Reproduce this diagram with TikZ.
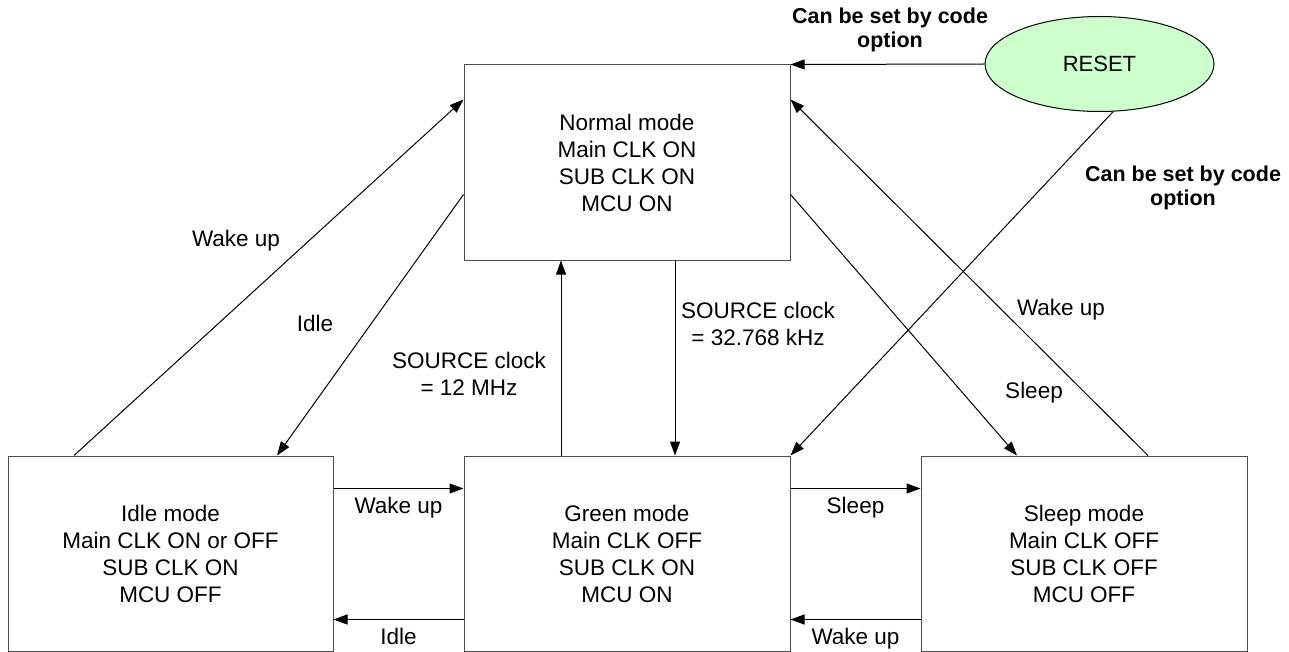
\documentclass[tikz,border=0pt]{standalone}
\usepackage{fontspec}
\setmainfont{Liberation Sans}
\usetikzlibrary{arrows.meta,shapes.geometric}
\definecolor{resetgreen}{HTML}{CCFFCC}

\begin{document}
\begin{tikzpicture}[x=1pt,y=-1pt,line width=1pt,
        mode/.style={draw=black!70,minimum width=326pt,minimum height=195pt,align=center,
                     font=\fontsize{22.5}{27}\selectfont},
        trans/.style={-{Triangle[length=14pt,width=10pt]}},
        lbl/.style={align=center,inner sep=2pt,font=\fontsize{22.5}{27}\selectfont},
        note/.style={align=center,inner sep=0pt,font=\fontsize{21.5}{24}\selectfont\bfseries}]
            \useasboundingbox (0,0) rectangle (1289,652);

            % the four modes
            \node[mode] (normal) at (627,162.5) {Normal mode\\Main CLK ON\\SUB CLK ON\\MCU ON};
            \node[mode,minimum width=325pt] (idle) at (170.5,553.5) {Idle mode\\Main CLK ON or OFF\\SUB CLK ON\\MCU OFF};
            \node[mode] (green) at (627,553.5) {Green mode\\Main CLK OFF\\SUB CLK ON\\MCU ON};
            \node[mode] (sleep) at (1084,553.5) {Sleep mode\\Main CLK OFF\\SUB CLK OFF\\MCU OFF};
            \node[draw,ellipse,fill=resetgreen,minimum width=229pt,minimum height=95pt,inner sep=0pt,
                  font=\fontsize{22}{26}\selectfont] (reset) at (1099.5,64) {RESET};

            % reset
            \draw[trans] (reset.west) -- (normal.north east);
            \draw[trans] (reset.-74) -- (green.north east);
            \node[note] (optA) at (890,30) {Can be set by code\\option};
            \node[note] (optB) at (1183,188) {Can be set by code\\option};

            % normal <-> idle
            \draw[trans] ([xshift=-96.5pt]idle.north) -- ([yshift=-35pt]normal.north west);
            \draw[trans] ([yshift=-130pt]normal.north west) -- ([xshift=106.5pt]idle.north);
            \node[lbl] (wakeA) at (236,241) {Wake up};
            \node[lbl] (idleA) at (315,323) {Idle};

            % normal <-> green
            \draw[trans] ([xshift=-66pt]green.north) -- ([xshift=-66pt]normal.south);
            \draw[trans] ([xshift=48pt]normal.south) -- ([xshift=48pt]green.north);
            \node[lbl] (srcA) at (469,374) {SOURCE clock\\= 12 MHz};
            \node[lbl] (srcB) at (758,324) {SOURCE clock\\= 32.768 kHz};

            % normal <-> sleep
            \draw[trans] ([xshift=64pt]sleep.north) -- ([yshift=-35pt]normal.north east);
            \draw[trans] ([yshift=-130pt]normal.north east) -- ([xshift=-67pt]sleep.north);
            \node[lbl] (wakeB) at (1061,310) {Wake up};
            \node[lbl] (sleepA) at (1034,393) {Sleep};

            % bottom row
            \draw[trans] ([yshift=-33pt]idle.north east) -- ([yshift=-33pt]green.north west)
                node[midway,below=6pt,lbl] {Wake up};
            \draw[trans] ([yshift=-164pt]green.north west) -- ([yshift=-164pt]idle.north east)
                node[midway,below=6pt,lbl] {Idle};
            \draw[trans] ([yshift=-33pt]green.north east) -- ([yshift=-33pt]sleep.north west)
                node[midway,below=6pt,lbl] {Sleep};
            \draw[trans] ([yshift=-164pt]sleep.north west) -- ([yshift=-164pt]green.north east)
                node[midway,below=6pt,lbl] {Wake up};
        \end{tikzpicture}
\end{document}
